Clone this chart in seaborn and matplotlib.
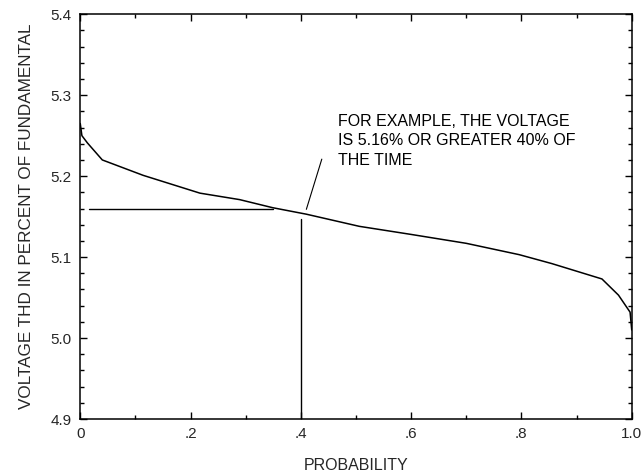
import matplotlib
matplotlib.use("Agg")
import matplotlib.pyplot as plt
import seaborn as sns
import pandas as pd
import numpy as np
from matplotlib.ticker import MultipleLocator, FixedLocator

# ---- data ----
probability = [0.0, 0.003, 0.013, 0.04, 0.114, 0.217, 0.289, 0.349, 0.41,
               0.506, 0.6, 0.7, 0.796, 0.855, 0.946, 0.976, 0.997, 1.0]
thd_percent = [5.265, 5.25, 5.241, 5.22, 5.201, 5.179, 5.171, 5.161, 5.153,
               5.138, 5.128, 5.117, 5.103, 5.092, 5.073, 5.053, 5.032, 5.01]

example_level_x = [0.015, 0.35]
example_level_y = [5.16, 5.16]
example_prob_x = [0.40, 0.40]
example_prob_y = [4.90, 5.147]
leader_x = [0.41, 0.438]
leader_y = [5.159, 5.221]

annotation_text = "FOR EXAMPLE, THE VOLTAGE\nIS 5.16% OR GREATER 40% OF\nTHE TIME"
x_ticks = [0.0, 0.2, 0.4, 0.6, 0.8, 1.0]
x_tick_labels = ["0", ".2", ".4", ".6", ".8", "1.0"]
y_ticks = [4.9, 5.0, 5.1, 5.2, 5.3, 5.4]
y_tick_labels = ["4.9", "5.0", "5.1", "5.2", "5.3", "5.4"]
x_label = "PROBABILITY"
y_label = "VOLTAGE THD IN PERCENT OF FUNDAMENTAL"

sns.set_style("ticks")
plt.rcParams["font.family"] = ["Liberation Sans", "DejaVu Sans"]

fig = plt.figure(figsize=(6.42, 4.74), dpi=100)
ax = fig.add_axes([0.125, 0.116, 0.859, 0.854])

df = pd.DataFrame({"p": probability, "v": thd_percent})
sns.lineplot(data=df, x="p", y="v", ax=ax, color="black", lw=1.1,
             sort=False, estimator=None)

ax.plot(example_level_x, example_level_y, color="black", lw=1.0)
ax.plot(example_prob_x, example_prob_y, color="black", lw=1.0)
ax.plot(leader_x, leader_y, color="black", lw=0.8)

ax.text(0.4665, 5.277, annotation_text, fontsize=11.5, va="top", ha="left",
        linespacing=1.38, color="black")

ax.set_xlim(0, 1.0)
ax.set_ylim(4.9, 5.4)
ax.xaxis.set_major_locator(FixedLocator(x_ticks))
ax.set_xticklabels(x_tick_labels)
ax.yaxis.set_major_locator(FixedLocator(y_ticks))
ax.set_yticklabels(y_tick_labels)
ax.xaxis.set_minor_locator(MultipleLocator(0.1))
ax.yaxis.set_minor_locator(MultipleLocator(0.02))
ax.tick_params(which="both", direction="in", top=True, right=True,
               width=1.0, color="black")
ax.tick_params(which="major", length=5, labelsize=11, pad=6)
ax.tick_params(which="minor", length=3)
for s in ax.spines.values():
    s.set_linewidth(1.1)
    s.set_color("black")

ax.set_xlabel(x_label, fontsize=11.5, labelpad=12)
ax.set_ylabel(y_label, fontsize=12.3, labelpad=12)

fig.savefig("out.png", dpi=100)
